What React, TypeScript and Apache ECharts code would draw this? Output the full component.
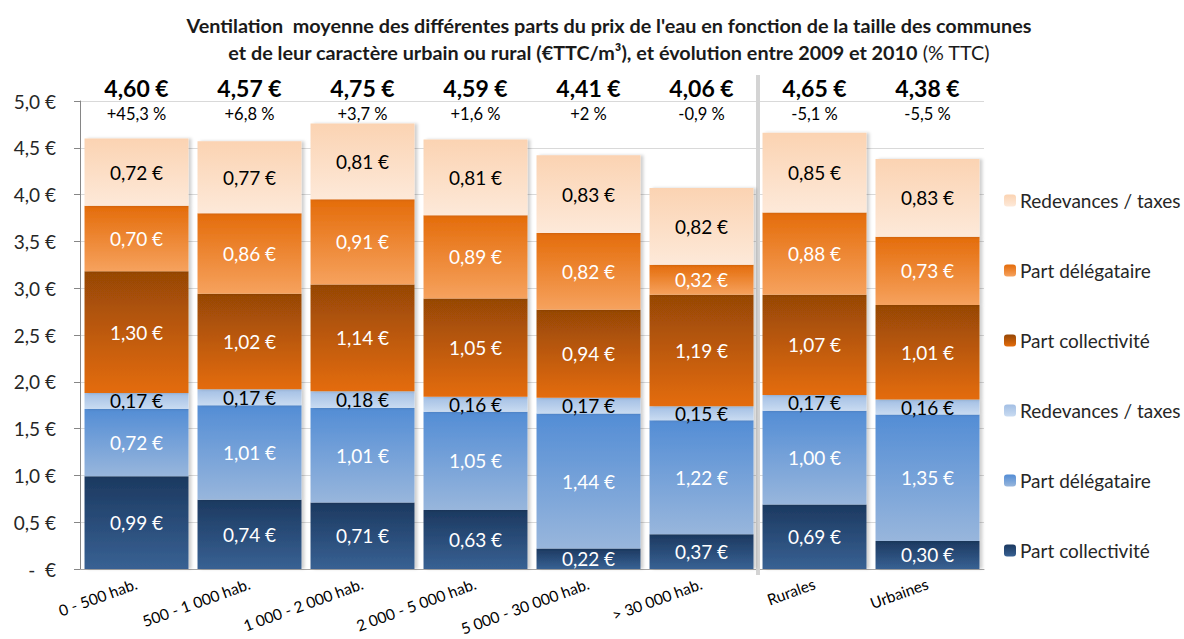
import React, { useEffect, useRef } from "react";
import * as echarts from "echarts";

const categories = [
  "0 - 500 hab.",
  "500 - 1 000 hab.",
  "1 000 - 2 000 hab.",
  "2 000 - 5 000 hab.",
  "5 000 - 30 000 hab.",
  "> 30 000 hab.",
  "Rurales",
  "Urbaines",
];
const totals = [4.6, 4.57, 4.75, 4.59, 4.41, 4.06, 4.65, 4.38];
const evolution = [45.3, 6.8, 3.7, 1.6, 2, -0.9, -5.1, -5.5];

// Eau potable (bleu)
const eauCollectivite = [0.99, 0.74, 0.71, 0.63, 0.22, 0.37, 0.69, 0.3];
const eauDelegataire = [0.72, 1.01, 1.01, 1.05, 1.44, 1.22, 1.0, 1.35];
const eauRedevances = [0.17, 0.17, 0.18, 0.16, 0.17, 0.15, 0.17, 0.16];
// Assainissement (orange)
const assCollectivite = [1.3, 1.02, 1.14, 1.05, 0.94, 1.19, 1.07, 1.01];
const assDelegataire = [0.7, 0.86, 0.91, 0.89, 0.82, 0.32, 0.88, 0.73];
const assRedevances = [0.72, 0.77, 0.81, 0.81, 0.83, 0.82, 0.85, 0.83];

const yTicks = [0, 0.5, 1, 1.5, 2, 2.5, 3, 3.5, 4, 4.5, 5];

const FONT = "Lato, 'Noto Sans', sans-serif";

const fmtEuro = (v: number) => v.toFixed(2).replace(".", ",") + " €";
const fmtPct = (v: number) =>
  (v > 0 ? "+" : "") + String(v).replace(".", ",") + " %";

const grad = (top: string, bottom: string) =>
  new echarts.graphic.LinearGradient(0, 0, 0, 1, [
    { offset: 0, color: top },
    { offset: 1, color: bottom },
  ]);

const displayNames: Record<string, string> = {
  eauColl: "Part collectivité",
  eauDel: "Part délégataire",
  eauRed: "Redevances / taxes",
  assColl: "Part collectivité",
  assDel: "Part délégataire",
  assRed: "Redevances / taxes",
};

export default function App() {
  const ref = useRef<HTMLDivElement>(null);
  useEffect(() => {
    if (!ref.current) return;
    const chart = echarts.init(ref.current, null, { renderer: "svg" });

    const mk = (
      id: string,
      data: number[],
      top: string,
      bottom: string,
      labelColor: string
    ) => ({
      name: id,
      type: "bar",
      stack: "total",
      barCategoryGap: "8%",
      data,
      itemStyle: {
        color: grad(top, bottom),
        shadowColor: "rgba(0,0,0,0.18)",
        shadowBlur: 3,
        shadowOffsetX: 3,
        shadowOffsetY: 0,
      },
      label: {
        show: true,
        position: "inside",
        color: labelColor,
        fontFamily: FONT,
        fontSize: 19,
        formatter: (p: any) => fmtEuro(p.value),
      },
    });

    chart.setOption({
      animation: false,
      backgroundColor: "#ffffff",
      textStyle: { fontFamily: FONT },
      title: {
        text:
          "{b|Ventilation  moyenne des différentes parts du prix de l'eau en fonction de la taille des communes}\n{b|et de leur caractère urbain ou rural (€TTC/m³), et évolution entre 2009 et 2010 }{n|(% TTC)}",
        left: 604,
        top: 6,
        textAlign: "center",
        textStyle: {
          fontWeight: "normal",
          rich: {
            b: {
              fontFamily: FONT,
              fontWeight: "bold",
              fontSize: 19.8,
              color: "#1a1a1a",
              lineHeight: 27,
            },
            n: {
              fontFamily: FONT,
              fontWeight: "normal",
              fontSize: 19.8,
              color: "#1a1a1a",
              lineHeight: 27,
            },
          },
        },
      },
      legend: {
        orient: "vertical",
        left: 999,
        top: 186,
        itemWidth: 12,
        itemHeight: 12,
        itemGap: 51,
        data: ["assRed", "assDel", "assColl", "eauRed", "eauDel", "eauColl"],
        formatter: (n: string) => displayNames[n],
        textStyle: { fontFamily: FONT, fontSize: 19, color: "#262626", padding: [0, 0, 0, -1] },
      },
      grid: { left: 80, right: 200, top: 101, bottom: 70 },
      xAxis: [
        {
          type: "category",
          data: categories,
          axisLine: { lineStyle: { color: "#a6a6a6" } },
          axisTick: { show: false },
          axisLabel: {
            rotate: 20,
            margin: 14,
            fontFamily: FONT,
            fontSize: 15.5,
            color: "#000",
          },
        },
        {
          type: "category",
          position: "top",
          data: categories,
          offset: -22,
          axisLine: { show: false },
          axisTick: { show: false },
          axisLabel: {
            margin: 0,
            formatter: (_v: string, i: number) =>
              "{t|" + fmtEuro(totals[i]) + "}\n{p|" + fmtPct(evolution[i]) + "}",
            rich: {
              t: {
                fontFamily: FONT,
                fontWeight: "bold",
                fontSize: 23,
                color: "#000",
                lineHeight: 34,
              },
              p: {
                fontFamily: FONT,
                fontSize: 16.5,
                color: "#000",
                lineHeight: 18,
              },
            },
          },
        },
      ],
      yAxis: {
        type: "value",
        min: yTicks[0],
        max: yTicks[yTicks.length - 1],
        interval: 0.5,
        axisLine: { show: true, lineStyle: { color: "#868686" } },
        axisTick: { show: true, length: 6, lineStyle: { color: "#868686" } },
        splitLine: { lineStyle: { color: "#d9d9d9" } },
        axisLabel: {
          margin: 24,
          fontFamily: FONT,
          fontSize: 19,
          color: "#262626",
          formatter: (v: number) =>
            v === 0 ? "-  €" : v.toFixed(1).replace(".", ",") + " €",
        },
      },
      series: [
        mk("eauColl", eauCollectivite, "#1c3960", "#386193", "#ffffff"),
        mk("eauDel", eauDelegataire, "#538dd5", "#98b6dc", "#ffffff"),
        mk("eauRed", eauRedevances, "#a3bfe4", "#c9dbf1", "#000000"),
        mk("assColl", assCollectivite, "#964706", "#e46c0a", "#ffffff"),
        mk("assDel", assDelegataire, "#e46c0a", "#f6a25e", "#ffffff"),
        mk("assRed", assRedevances, "#fbd3b2", "#fde9d9", "#000000"),
      ],
    });

    // Séparateur entre tailles de communes et Rurales / Urbaines
    const x5 = chart.convertToPixel({ xAxisIndex: 0 }, categories[5]) as number;
    const x6 = chart.convertToPixel({ xAxisIndex: 0 }, categories[6]) as number;
    const yTop = chart.convertToPixel({ yAxisIndex: 0 }, yTicks[yTicks.length - 1]) as number;
    const yBot = chart.convertToPixel({ yAxisIndex: 0 }, yTicks[0]) as number;
    chart.setOption({
      graphic: [
        {
          type: "rect",
          shape: { x: (x5 + x6) / 2 - 2, y: yTop - 26, width: 4, height: yBot - yTop + 32 },
          style: { fill: "#d4d4d4" },
          z: 1,
        },
      ],
    });

    return () => chart.dispose();
  }, []);
  return (
    <div
      ref={ref}
      style={{ position: "fixed", left: 0, top: 0, width: 1184, height: 639 }}
    />
  );
}
